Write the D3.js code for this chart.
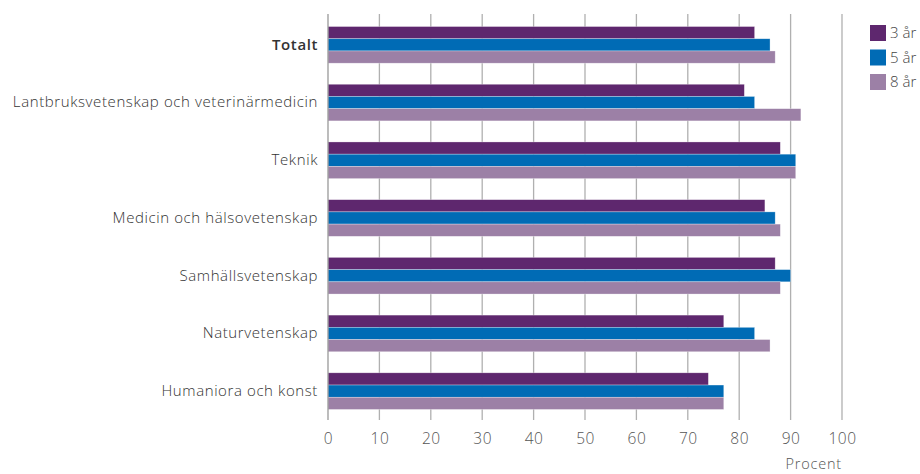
<!DOCTYPE html>
<html><head><meta charset="utf-8">
<script src="https://cdn.jsdelivr.net/npm/d3@7"></script>
<style>body{margin:0;background:#fff}svg{display:block}text{font-family:"Open Sans",Lato,sans-serif}</style>
</head><body><svg id="c" width="920" height="474"></svg>
<script>
const categories = ["Totalt","Lantbruksvetenskap och veterinärmedicin","Teknik","Medicin och hälsovetenskap","Samhällsvetenskap","Naturvetenskap","Humaniora och konst"];
const seriesNames = ["3 år","5 år","8 år"];
const values3 = [83,81,88,85,87,77,74];
const values5 = [86,83,91,87,90,83,77];
const values8 = [87,92,91,88,88,86,77];
const ticks = [0,10,20,30,40,50,60,70,80,90,100];
const colors = ["#5e276e","#006bb5","#9c80a6"];
const axisTitle = "Procent";

const svg = d3.select("#c");
const x = d3.scaleLinear().domain([0,100]).range([328,842]);
const y = d3.scaleBand().domain(categories).range([16,420]).paddingInner(0.365).paddingOuter(0.1825);
const ys = d3.scaleBand().domain(seriesNames).range([0,y.bandwidth()]);
const series = [values3,values5,values8];

// gridlines
svg.append("g").selectAll("line").data(ticks.slice(1)).join("line")
  .attr("x1",d=>x(d)).attr("x2",d=>x(d)).attr("y1",14).attr("y2",420)
  .attr("stroke","#b0b0b0").attr("stroke-width",1.3);

// bars
categories.forEach((c,i)=>{
  series.forEach((vals,j)=>{
    svg.append("rect").attr("x",x(0)).attr("y",y(c)+ys(seriesNames[j]))
      .attr("width",x(vals[i])-x(0)).attr("height",ys.bandwidth())
      .attr("fill",colors[j]).attr("stroke","#fff").attr("stroke-opacity",0.5).attr("stroke-width",0.6);
  });
});

// zero axis line
svg.append("line").attr("x1",x(0)).attr("x2",x(0)).attr("y1",14).attr("y2",420)
  .attr("stroke","#999").attr("stroke-width",1.3);

// x axis
const ax = svg.append("g").attr("transform","translate(0,420)")
  .call(d3.axisBottom(x).tickValues(ticks).tickSize(0).tickPadding(13));
ax.select(".domain").remove();
ax.selectAll("text").attr("font-size",15.5).attr("fill","#555").attr("font-family","'Open Sans',sans-serif")
  .attr("font-weight",300).attr("letter-spacing","0.5px");

svg.append("text").attr("x",x(100)).attr("y",469).attr("text-anchor","end")
  .attr("font-size",14.5).attr("fill","#555").attr("font-weight",300).attr("letter-spacing","0.8px").text(axisTitle);

// y labels
const yl = svg.append("g").attr("transform","translate(328,0)")
  .call(d3.axisLeft(y).tickSize(0).tickPadding(10));
yl.select(".domain").remove();
yl.selectAll("text").attr("font-size",15).attr("fill","#333").attr("font-family","'Open Sans',sans-serif")
  .attr("letter-spacing","0.6px")
  .attr("font-weight",d=>d==="Totalt"?600:300);

// legend
const lg = svg.append("g");
seriesNames.forEach((s,j)=>{
  lg.append("rect").attr("x",870).attr("y",25+j*24.5).attr("width",16).attr("height",16).attr("fill",colors[j]);
  lg.append("text").attr("x",890).attr("y",33+j*24.5).attr("dy","0.35em").attr("font-size",15)
    .attr("fill","#444").attr("font-weight",300).text(s);
});
</script></body></html>
